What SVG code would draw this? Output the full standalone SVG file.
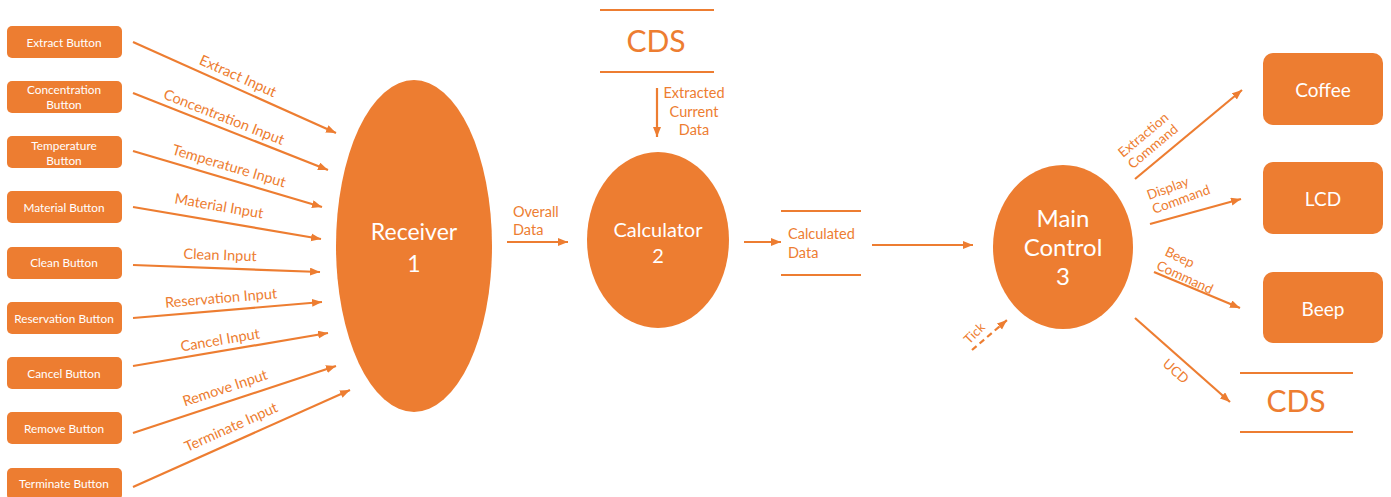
<svg xmlns="http://www.w3.org/2000/svg" width="1391" height="497" viewBox="0 0 1391 497">
<style>
.btn{fill:#ED7D31}
.bt{fill:#fff;font-family:Lato,"Noto Sans",sans-serif;font-size:11.8px;text-anchor:middle}
.proc{fill:#ED7D31}
.pt{fill:#fff;font-family:Lato,"Noto Sans",sans-serif;text-anchor:middle}
.ln{stroke:#ED7D31;stroke-width:2.2;fill:none}
.arr{stroke:#ED7D31;stroke-width:2.2;fill:none;marker-end:url(#ah)}
.lbl{fill:#ED7D31;font-family:Lato,"Noto Sans",sans-serif;font-size:14.5px}
.sm{font-size:13.5px}
.lc{text-anchor:middle}
.cds{fill:#ED7D31;font-family:Lato,"Noto Sans",sans-serif;font-size:30px;text-anchor:middle}
</style>
<defs>
<marker id="ah" markerUnits="userSpaceOnUse" markerWidth="11" markerHeight="9" refX="10" refY="4" orient="auto">
<path d="M0,0 L10,4 L0,8 z" fill="#ED7D31"/>
</marker>
</defs>
<rect width="1391" height="497" fill="#fff"/>

<g id="btn-extract"><rect class="btn" x="7" y="26" width="115" height="32" rx="5"/><text class="bt" x="64" y="47">Extract Button</text></g>
<g id="btn-concentration"><rect class="btn" x="7" y="81" width="115" height="32" rx="5"/><text class="bt" x="64" y="94">Concentration</text><text class="bt" x="64" y="109">Button</text></g>
<g id="btn-temperature"><rect class="btn" x="7" y="136" width="115" height="32" rx="5"/><text class="bt" x="64" y="150">Temperature</text><text class="bt" x="64" y="165">Button</text></g>
<g id="btn-material"><rect class="btn" x="7" y="191" width="115" height="32" rx="5"/><text class="bt" x="64" y="212">Material Button</text></g>
<g id="btn-clean"><rect class="btn" x="7" y="247" width="115" height="32" rx="5"/><text class="bt" x="64" y="267">Clean Button</text></g>
<g id="btn-reservation"><rect class="btn" x="7" y="302" width="115" height="32" rx="5"/><text class="bt" x="64" y="323">Reservation Button</text></g>
<g id="btn-cancel"><rect class="btn" x="7" y="357" width="115" height="32" rx="5"/><text class="bt" x="64" y="378">Cancel Button</text></g>
<g id="btn-remove"><rect class="btn" x="7" y="412" width="115" height="32" rx="5"/><text class="bt" x="64" y="433">Remove Button</text></g>
<g id="btn-terminate"><rect class="btn" x="7" y="468" width="115" height="32" rx="5"/><text class="bt" x="64" y="488">Terminate Button</text></g>

<g id="receiver"><ellipse class="proc" cx="414" cy="246" rx="78" ry="166"/><text class="pt" x="414" y="240" font-size="23">Receiver</text><text class="pt" x="414" y="272" font-size="23">1</text></g>
<g id="calculator"><ellipse class="proc" cx="658" cy="240" rx="71" ry="88"/><text class="pt" x="658" y="237" font-size="20">Calculator</text><text class="pt" x="658" y="263" font-size="20">2</text></g>
<g id="main-control"><ellipse class="proc" cx="1063" cy="247" rx="70" ry="82"/><text class="pt" x="1063" y="227" font-size="24">Main</text><text class="pt" x="1063" y="256" font-size="24">Control</text><text class="pt" x="1063" y="285" font-size="24">3</text></g>

<g id="cds-top"><line class="ln" x1="600" y1="10" x2="714" y2="10"/><line class="ln" x1="600" y1="72" x2="714" y2="72"/><text class="cds" x="656" y="52">CDS</text></g>
<g id="calculated-data"><line class="ln" x1="781" y1="211" x2="861" y2="211"/><line class="ln" x1="781" y1="275" x2="861" y2="275"/><text class="lbl" x="788" y="239">Calculated</text><text class="lbl" x="788" y="258">Data</text></g>
<g id="cds-right"><line class="ln" x1="1240" y1="373" x2="1353" y2="373"/><line class="ln" x1="1240" y1="432" x2="1353" y2="432"/><text class="cds" x="1296" y="412">CDS</text></g>

<g id="coffee"><rect class="btn" x="1263" y="53" width="120" height="72" rx="10"/><text class="pt" x="1323" y="97" font-size="19">Coffee</text></g>
<g id="lcd"><rect class="btn" x="1263" y="162" width="120" height="72" rx="10"/><text class="pt" x="1323" y="206" font-size="19">LCD</text></g>
<g id="beep"><rect class="btn" x="1263" y="272" width="120" height="71" rx="10"/><text class="pt" x="1323" y="316" font-size="19">Beep</text></g>

<g id="connectors">
<line class="arr" x1="133" y1="42" x2="336" y2="133"/>
<line class="arr" x1="133" y1="93" x2="328" y2="170"/>
<line class="arr" x1="133" y1="151" x2="322" y2="207"/>
<line class="arr" x1="133" y1="207" x2="321" y2="239"/>
<line class="arr" x1="133" y1="265" x2="320" y2="272"/>
<line class="arr" x1="133" y1="318" x2="322" y2="302"/>
<line class="arr" x1="133" y1="366" x2="328" y2="333"/>
<line class="arr" x1="133" y1="433" x2="336" y2="366"/>
<line class="arr" x1="133" y1="487" x2="350" y2="390"/>
<line class="arr" x1="507" y1="242" x2="568" y2="242"/>
<line class="arr" x1="657" y1="88" x2="657" y2="137"/>
<line class="arr" x1="744" y1="242" x2="781" y2="242"/>
<line class="arr" x1="872" y1="245" x2="973" y2="245"/>
<line class="arr" x1="1135" y1="179" x2="1242" y2="90"/>
<line class="arr" x1="1150" y1="224" x2="1241" y2="199"/>
<line class="arr" x1="1154" y1="272" x2="1240" y2="308"/>
<line class="arr" x1="1135" y1="318" x2="1230" y2="402"/>
<line class="arr" x1="972" y1="350" x2="1007" y2="320" stroke-dasharray="6,4"/>

<text class="lbl lc" transform="translate(238,76) rotate(24.1)" y="5">Extract Input</text>
<text class="lbl lc" transform="translate(224,117) rotate(21.5)" y="5">Concentration Input</text>
<text class="lbl lc" transform="translate(229,166) rotate(16.5)" y="5">Temperature Input</text>
<text class="lbl lc" transform="translate(219,206) rotate(9.7)" y="5">Material Input</text>
<text class="lbl lc" transform="translate(220,255) rotate(2)" y="5">Clean Input</text>
<text class="lbl lc" transform="translate(221,298) rotate(-4.8)" y="5">Reservation Input</text>
<text class="lbl lc" transform="translate(220,340) rotate(-9.6)" y="5">Cancel Input</text>
<text class="lbl lc" transform="translate(225,388) rotate(-18.3)" y="5">Remove Input</text>
<text class="lbl lc" transform="translate(231,427) rotate(-24)" y="5">Terminate Input</text>

<text class="lbl" x="513" y="217">Overall</text>
<text class="lbl" x="513" y="235">Data</text>
<text class="lbl lc" x="694" y="98">Extracted</text>
<text class="lbl lc" x="694" y="117">Current</text>
<text class="lbl lc" x="694" y="135">Data</text>

<g transform="translate(1123,158) rotate(-40)"><text class="lbl sm">Extraction</text><text class="lbl sm" y="15">Command</text></g>
<g transform="translate(1149,200) rotate(-20)"><text class="lbl sm">Display</text><text class="lbl sm" y="15">Command</text></g>
<g transform="translate(1164,255) rotate(25)"><text class="lbl sm">Beep</text><text class="lbl sm" x="-2" y="16">Command</text></g>
<text class="lbl lc sm" transform="translate(1176,371) rotate(41.5)" y="5">UCD</text>
<text class="lbl lc" style="font-size:13px" transform="translate(974,333) rotate(-45)" y="5">Tick</text>
</g>
</svg>
